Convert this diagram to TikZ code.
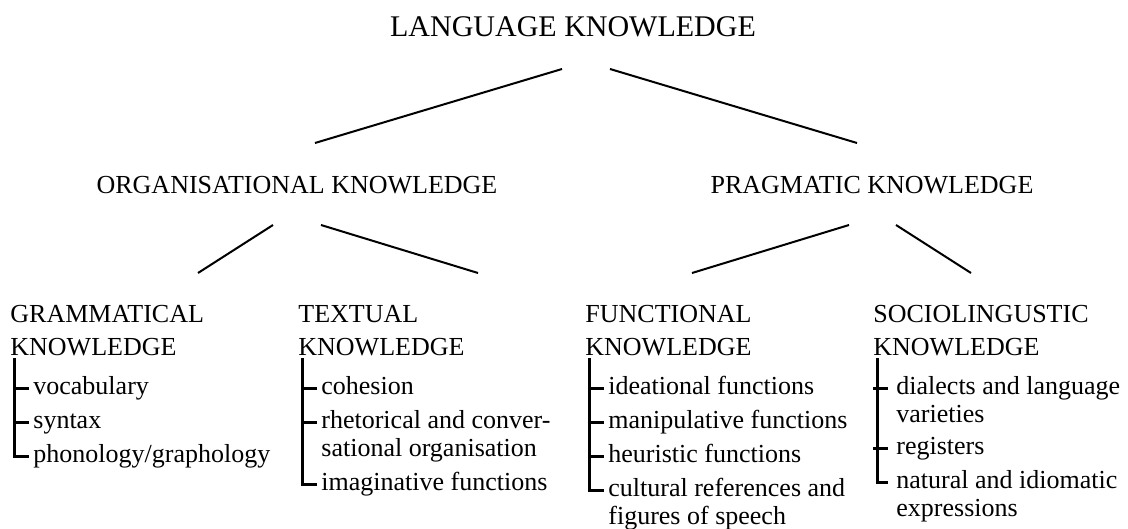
\documentclass[tikz,border=0pt]{standalone}
\usepackage{fontspec}
\setmainfont{Liberation Serif}
\begin{document}
\begin{tikzpicture}[x=0.5pt,y=-0.5pt,
    head/.style={inner sep=0pt,anchor=base,font=\fontsize{15}{18}\selectfont},
    lbl/.style={inner sep=0pt,align=left,font=\fontsize{13}{16.5}\selectfont},
    item/.style={inner sep=0pt,anchor=base west,align=left,font=\fontsize{13}{14}\selectfont},
    branch/.style={line width=1pt},
    bracket/.style={line width=1.5pt}]
\useasboundingbox (0,0) rectangle (1128,529);

\node[head] (lang) at (573,37) {LANGUAGE KNOWLEDGE};

\node[lbl,anchor=base] (org) at (297,194) {ORGANISATIONAL KNOWLEDGE};
\node[lbl,anchor=base] (prag) at (872,194) {PRAGMATIC KNOWLEDGE};

% base of a two-line node is its last line
\node[lbl,anchor=base west] (gram) at (10,355) {GRAMMATICAL\\KNOWLEDGE};
\node[lbl,anchor=base west] (text) at (298,355) {TEXTUAL\\KNOWLEDGE};
\node[lbl,anchor=base west] (func) at (585,355) {FUNCTIONAL\\KNOWLEDGE};
\node[lbl,anchor=base west] (socio) at (873,355) {SOCIOLINGUSTIC\\KNOWLEDGE};

% tree branches
\draw[branch] ([shift={(-11,32)}]lang.base) -- ([shift={(18,-51)}]org.base);
\draw[branch] ([shift={(37,32)}]lang.base) -- ([shift={(-15,-51)}]prag.base);

\draw[branch] ([shift={(-24,31)}]org.base) -- ([shift={(188,-82)}]gram.base west);
\draw[branch] ([shift={(24,31)}]org.base) -- ([shift={(180,-82)}]text.base west);
\draw[branch] ([shift={(-23,31)}]prag.base) -- ([shift={(107,-82)}]func.base west);
\draw[branch] ([shift={(24,31)}]prag.base) -- ([shift={(98,-82)}]socio.base west);

% grammatical
\node[item] (g1) at (33,394) {vocabulary};
\node[item] (g2) at (33,428) {syntax};
\node[item] (g3) at (33,462) {phonology/graphology};
\draw[bracket] ([shift={(4,3)}]gram.base west) |- ([shift={(-4,-6)}]g3.base west);
\draw[bracket] ([shift={(-4,-6)}]g1.base west) -- ++(-15,0);
\draw[bracket] ([shift={(-4,-6)}]g2.base west) -- ++(-15,0);

% textual
\node[item] (t1) at (321,394) {cohesion};
\node[item] (t2) at (321,456) {rhetorical and conver-\\sational organisation};
\node[item] (t3) at (321,490) {imaginative functions};
\draw[bracket] ([shift={(4,3)}]text.base west) |- ([shift={(-4,-6)}]t3.base west);
\draw[bracket] ([shift={(-4,-6)}]t1.base west) -- ++(-15,0);
\draw[bracket] ([shift={(-4,-34)}]t2.base west) -- ++(-15,0);

% functional
\node[item] (f1) at (608,394) {ideational functions};
\node[item] (f2) at (608,428) {manipulative functions};
\node[item] (f3) at (608,462) {heuristic functions};
\node[item] (f4) at (608,524) {cultural references and\\figures of speech};
\draw[bracket] ([shift={(4,3)}]func.base west) |- ([shift={(-4,-34)}]f4.base west);
\draw[bracket] ([shift={(-4,-6)}]f1.base west) -- ++(-15,0);
\draw[bracket] ([shift={(-4,-6)}]f2.base west) -- ++(-15,0);
\draw[bracket] ([shift={(-4,-6)}]f3.base west) -- ++(-15,0);

% sociolinguistic
\node[item] (s1) at (896,422) {dialects and language\\varieties};
\node[item] (s2) at (896,454) {registers};
\node[item] (s3) at (896,516) {natural and idiomatic\\expressions};
\draw[bracket] ([shift={(4,3)}]socio.base west) |- ([shift={(-8,-34)}]s3.base west);
\draw[bracket] ([shift={(-8,-34)}]s1.base west) -- ++(-15,0);
\draw[bracket] ([shift={(-8,-6)}]s2.base west) -- ++(-15,0);
\end{tikzpicture}
\end{document}
